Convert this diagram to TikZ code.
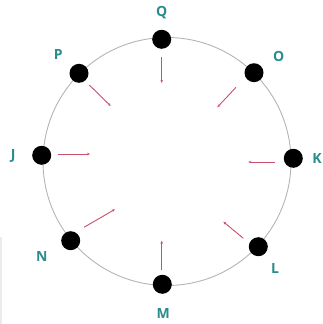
\documentclass[tikz,border=0pt]{standalone}
\usepackage{fontspec}
\setmainfont{Open Sans}
\usetikzlibrary{arrows.meta}
\definecolor{lbl}{HTML}{2A8C8C}
\definecolor{arr}{HTML}{C8506A}
\definecolor{ring}{HTML}{B4B4B4}
\begin{document}
\begin{tikzpicture}[x=1pt,y=-1pt,
  dot/.style={circle,fill=black,inner sep=0pt,minimum size=19pt},
  lab/.style={text=lbl,font=\bfseries\fontsize{14}{14}\selectfont,inner sep=0pt},
  ptr/.style={draw=arr,line width=0.9pt,-{Stealth[length=3pt,width=2.5pt]}}]
\useasboundingbox (0,0) rectangle (322,324);
\fill[black!8] (0,237) rectangle (2,324);
\draw[ring,line width=0.9pt] (167,161.5) circle (124);
% dots
\node[dot] (Q) at (161.7,39.3) {};
\node[dot] (O) at (254,72.7) {};
\node[dot] (K) at (293.3,158.3) {};
\node[dot] (L) at (258.3,246.7) {};
\node[dot] (M) at (162.3,284.3) {};
\node[dot] (N) at (70.7,240.7) {};
\node[dot] (J) at (41.7,155.3) {};
\node[dot] (P) at (79,73.3) {};
% labels
\node[lab] (lQ) at (161.7,13) {Q};
\node[lab] (lO) at (278.7,56) {O};
\node[lab] (lK) at (317,158.3) {K};
\node[lab] (lL) at (275,268.3) {L};
\node[lab] (lM) at (163.3,313.3) {M};
\node[lab] (lN) at (41.7,256.7) {N};
\node[lab] (lJ) at (13.3,156) {J};
\node[lab] (lP) at (58.3,55) {P};
% arrow ends
\coordinate (q1) at (161.7,57);   \coordinate (q2) at (161.7,83);
\coordinate (o1) at (236,87.3);   \coordinate (o2) at (217.3,107.3);
\coordinate (k1) at (275,162);    \coordinate (k2) at (248.3,162);
\coordinate (l1) at (243.3,238.3);\coordinate (l2) at (223.3,221.7);
\coordinate (m1) at (161.7,270);  \coordinate (m2) at (161.7,240.7);
\coordinate (n1) at (84,227.3);   \coordinate (n2) at (115,209.3);
\coordinate (j1) at (58.3,154);   \coordinate (j2) at (90,154);
\coordinate (p1) at (89.3,85);    \coordinate (p2) at (110.7,106);
\draw[ptr] (q1) -- (q2);
\draw[ptr] (o1) -- (o2);
\draw[ptr] (k1) -- (k2);
\draw[ptr] (l1) -- (l2);
\draw[ptr] (m1) -- (m2);
\draw[ptr] (n1) -- (n2);
\draw[ptr] (j1) -- (j2);
\draw[ptr] (p1) -- (p2);
\end{tikzpicture}
\end{document}
